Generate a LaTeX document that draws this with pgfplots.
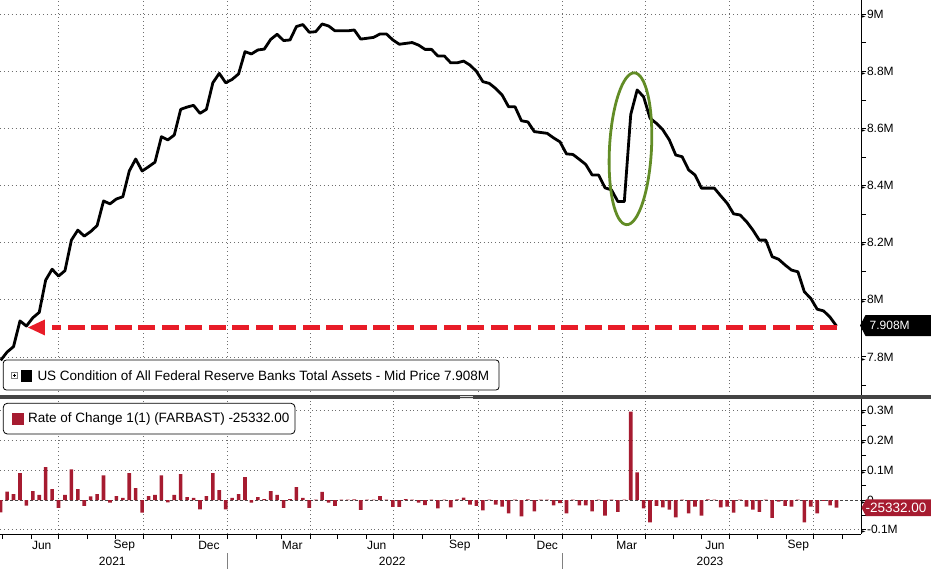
\documentclass[border=0pt]{standalone}
\usepackage{pgfplots}
\pgfplotsset{compat=1.18}
\usepackage{pgfplotstable}
\usepackage{fontspec}
\setmainfont{Liberation Sans}
\newfontfamily\dejavu{DejaVu Sans}
\definecolor{barred}{RGB}{166,27,48}
\definecolor{arrred}{RGB}{232,28,40}
\definecolor{ellgreen}{RGB}{98,140,38}
\definecolor{gridgray}{RGB}{110,110,110}
\definecolor{sepgray}{RGB}{68,68,68}
\newcommand{\tri}{{\dejavu\fontsize{6}{6}\selectfont ►}\hspace{1.2pt}}

\pgfplotstableread{
day v
118 7.788
125 7.817
132 7.836
139 7.926
146 7.908
153 7.937
160 7.956
167 8.069
174 8.107
181 8.083
188 8.102
195 8.209
202 8.244
209 8.223
216 8.239
223 8.260
230 8.346
237 8.336
244 8.353
251 8.361
258 8.451
265 8.493
272 8.451
279 8.466
286 8.482
293 8.571
300 8.560
307 8.577
314 8.667
321 8.675
328 8.681
335 8.653
342 8.667
349 8.760
356 8.793
363 8.760
370 8.772
377 8.791
384 8.869
391 8.861
398 8.875
405 8.878
412 8.912
419 8.930
426 8.908
433 8.910
440 8.957
447 8.964
454 8.937
461 8.939
468 8.966
475 8.959
482 8.942
489 8.942
496 8.942
503 8.945
510 8.913
517 8.916
524 8.919
531 8.931
538 8.931
545 8.910
552 8.895
559 8.898
566 8.901
573 8.892
580 8.877
587 8.877
594 8.854
601 8.854
608 8.830
615 8.830
622 8.836
629 8.822
636 8.800
643 8.764
650 8.758
657 8.740
664 8.717
671 8.676
678 8.676
685 8.627
692 8.623
699 8.589
706 8.586
713 8.583
720 8.567
727 8.553
734 8.511
741 8.509
748 8.492
755 8.474
762 8.437
769 8.437
776 8.392
783 8.385
790 8.344
797 8.344
804 8.649
811 8.735
818 8.711
825 8.636
832 8.618
839 8.595
846 8.560
853 8.507
860 8.501
867 8.455
874 8.437
881 8.391
888 8.391
895 8.391
902 8.364
909 8.338
916 8.301
923 8.297
930 8.274
937 8.244
944 8.209
951 8.209
958 8.151
965 8.142
972 8.122
979 8.104
986 8.098
993 8.028
1000 8.005
1007 7.967
1014 7.961
1021 7.939
1028 7.908
}\assets

\pgfplotstableread{
day r
118 -0.041
125 0.028
132 0.020
139 0.090
146 -0.019
153 0.030
160 0.017
167 0.110
174 0.037
181 -0.026
188 0.017
195 0.103
202 0.037
209 -0.020
216 0.012
223 0.020
230 0.083
237 -0.009
244 0.013
251 0.007
258 0.090
265 0.040
272 -0.042
279 0.013
286 0.017
293 0.083
300 -0.008
307 0.017
314 0.087
321 0.010
328 0.007
335 -0.031
342 0.013
349 0.090
356 0.033
363 -0.031
370 0.007
377 0.020
384 0.077
391 -0.009
398 0.010
405 0.003
412 0.030
419 0.017
426 -0.026
433 0.003
440 0.043
447 0.007
454 -0.026
461 0.001
468 0.027
475 -0.009
482 -0.020
489 0.001
496 0.001
503 0.002
510 -0.033
517 0.001
524 0.001
531 0.013
538 0.001
545 -0.023
552 -0.023
559 0.003
566 0.001
573 -0.009
580 -0.017
587 0.001
594 -0.028
601 0.001
608 -0.025
615 0.002
622 0.008
629 -0.015
636 -0.020
643 -0.035
650 0.001
657 -0.015
664 -0.022
671 -0.045
678 0.001
685 -0.055
692 0.002
699 -0.038
706 0.001
713 0.001
720 -0.018
727 -0.010
734 -0.045
741 0.001
748 -0.018
755 -0.018
762 -0.038
769 0.001
776 -0.052
783 0.001
790 -0.040
797 0.001
804 0.297
811 0.093
818 -0.028
825 -0.075
832 -0.020
839 -0.025
846 -0.032
853 -0.058
860 0.001
867 -0.045
874 -0.022
881 -0.052
888 0.002
895 0.001
902 -0.025
909 -0.022
916 -0.042
923 0.001
930 -0.022
937 -0.032
944 -0.040
951 0.001
958 -0.060
965 -0.005
972 -0.020
979 -0.022
986 0.001
993 -0.075
1000 -0.022
1007 -0.045
1014 -0.003
1021 -0.018
1028 -0.0253
}\roc

\pgfplotsset{
  bbg/.style={
    scale only axis, width=861pt,
    xmin=117.26, xmax=1054.7,
    clip=false,
    axis line style={draw=none},
    xtick={181,273,365,455,546,638,730,820,911,1003},
    xticklabels={},
    ytick pos=right, yticklabel pos=right,
    tick align=outside,
    major tick length=5pt, minor tick length=5pt,
    tick style={black, line width=0.8pt},
    xmajorgrids, ymajorgrids,
    major grid style={gridgray, line width=0.7pt, dash pattern=on 0.9pt off 3pt},
    yticklabel style={font=\fontsize{12}{12}\selectfont, inner sep=0pt, anchor=west, xshift=-5pt},
  }
}

\begin{document}
\begin{tikzpicture}[x=1pt,y=1pt]
\begin{axis}[bbg,
  at={(0pt,0pt)}, anchor=north west, height=396pt,
  ymin=7.663, ymax=9.050,
  xtick style={draw=none},
  ytick={7.8,8,8.2,8.4,8.6,8.8,9},
  yticklabels={\tri7.8M,\tri8M,\tri8.2M,\tri8.4M,\tri8.6M,\tri8.8M,\tri9M},
  minor ytick={7.7,7.9,8.1,8.3,8.5,8.7,8.9},
]
\addplot[black, line width=2.8pt, line join=round] table[x=day,y=v] {\assets};
\draw[arrred, line width=5.7pt, dash pattern=on 17pt off 6.5pt] (axis cs:1028.2,7.903) -- (axis cs:173.9,7.903);
\fill[arrred] (axis cs:147.7,7.903) -- ([yshift=8pt]axis cs:166.2,7.903) -- ([yshift=-8pt]axis cs:166.2,7.903) -- cycle;
\draw[ellgreen, line width=2.8pt] (axis cs:803.7,8.529) ellipse [x radius=21pt, y radius=76pt, rotate=-3];
\end{axis}

\begin{axis}[bbg,
  at={(0pt,-399pt)}, anchor=north west, height=135pt,
  ymin=-0.114, ymax=0.339,
  minor xtick={120,151,212,243,304,334,396,424,485,516,577,608,669,699,761,789,850,881,942,973,1034},
  xtick pos=left,
  ytick={-0.1,0.1,0.2,0.3},
  yticklabels={\tri-0.1M,\tri0.1M,\tri0.2M,\tri0.3M},
  minor ytick={-0.05,0.05,0.15,0.25},
  extra y ticks={0}, extra y tick labels={\tri0},
  extra y tick style={major grid style={sepgray, line width=0.7pt, dash pattern=on 3pt off 2pt}},
]
\addplot[ybar, bar width=3.6pt, fill=barred, draw=none] table[x=day,y=r] {\roc};
\draw[black, line width=0.8pt] (rel axis cs:0,0) -- (rel axis cs:1,0);
\node[font=\fontsize{12}{12}\selectfont] at ([yshift=-11.7pt]axis cs:162.7,-0.114) {Jun};
\node[font=\fontsize{12}{12}\selectfont] at ([yshift=-11.7pt]axis cs:252.6,-0.114) {Sep};
\node[font=\fontsize{12}{12}\selectfont] at ([yshift=-11.7pt]axis cs:344.8,-0.114) {Dec};
\node[font=\fontsize{12}{12}\selectfont] at ([yshift=-11.7pt]axis cs:435.5,-0.114) {Mar};
\node[font=\fontsize{12}{12}\selectfont] at ([yshift=-11.7pt]axis cs:527.4,-0.114) {Jun};
\node[font=\fontsize{12}{12}\selectfont] at ([yshift=-11.7pt]axis cs:618.0,-0.114) {Sep};
\node[font=\fontsize{12}{12}\selectfont] at ([yshift=-11.7pt]axis cs:713.1,-0.114) {Dec};
\node[font=\fontsize{12}{12}\selectfont] at ([yshift=-11.7pt]axis cs:799.6,-0.114) {Mar};
\node[font=\fontsize{12}{12}\selectfont] at ([yshift=-11.7pt]axis cs:895.7,-0.114) {Jun};
\node[font=\fontsize{12}{12}\selectfont] at ([yshift=-11.7pt]axis cs:986.4,-0.114) {Sep};
\node[font=\fontsize{12}{12}\selectfont] at ([yshift=-27.7pt]axis cs:239.5,-0.114) {2021};
\node[font=\fontsize{12}{12}\selectfont] at ([yshift=-27.7pt]axis cs:544.4,-0.114) {2022};
\node[font=\fontsize{12}{12}\selectfont] at ([yshift=-27.7pt]axis cs:890.3,-0.114) {2023};
\draw[gray, line width=0.8pt] ([yshift=-19pt]axis cs:365,-0.114) -- ([yshift=-36pt]axis cs:365,-0.114);
\draw[gray, line width=0.8pt] ([yshift=-19pt]axis cs:730,-0.114) -- ([yshift=-36pt]axis cs:730,-0.114);
\end{axis}

% right axis line and separator
\draw[black, line width=0.9pt] (861,0) -- (861,-534);
\draw[sepgray, line width=3.3pt] (0,-397) -- (931,-397);
\draw[white!75!gray, line width=0.6pt] (460,-396.1) -- (473,-396.1) (460,-397.9) -- (473,-397.9);

% legends
\draw[black, line width=0.8pt, fill=white, rounded corners=3pt] (3.3,-360) rectangle (499,-390);
\draw[gray, line width=0.5pt] (11.7,-372.4) rectangle (17.5,-378.2);
\draw[black, line width=0.5pt] (12.9,-375.3) -- (16.3,-375.3) (14.6,-373.6) -- (14.6,-377.0);
\fill[black] (20.7,-369.5) rectangle (32.3,-381.5);
\node[anchor=west, inner sep=0pt, font=\fontsize{13.5}{13.5}\selectfont] at (37.3,-375.5) {US Condition of All Federal Reserve Banks Total Assets - Mid Price 7.908M};

\draw[black, line width=0.8pt, fill=white, rounded corners=4pt] (3.3,-403.3) rectangle (295,-434);
\fill[barred] (12.3,-413.3) rectangle (24,-425);
\node[anchor=west, inner sep=0pt, font=\fontsize{13.5}{13.5}\selectfont] at (28,-419.2) {Rate of Change 1(1) (FARBAST) -25332.00};

% last value labels
\fill[black] (860,-325.5) -- (865.5,-315) -- (931,-315) -- (931,-336) -- (865.5,-336) -- cycle;
\node[anchor=west, inner sep=0pt, text=white, font=\fontsize{12}{12}\selectfont] at (869.5,-325.5) {7.908M};
\fill[barred] (861.5,-507.7) -- (866,-499.3) -- (931,-499.3) -- (931,-516.1) -- (866,-516.1) -- cycle;
\node[anchor=west, inner sep=0pt, text=white, font=\fontsize{13.5}{13.5}\selectfont] at (865.5,-507.9) {-25332.00};

\pgfresetboundingbox
\path[use as bounding box] (0,0) rectangle (931,-569);
\end{tikzpicture}
\end{document}
